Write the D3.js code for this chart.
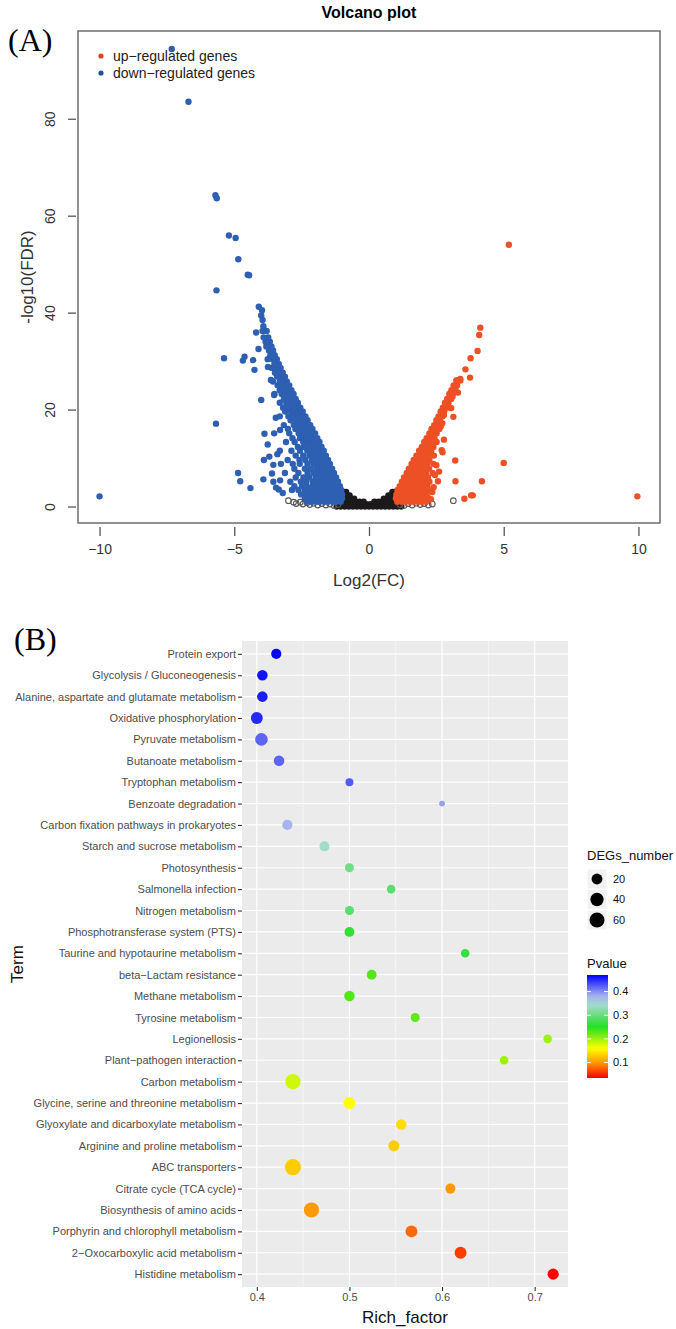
<!DOCTYPE html>
<html><head><meta charset="utf-8">
<script src="https://cdn.jsdelivr.net/npm/d3@7"></script>
<style>body{margin:0;background:#fff}text{font-family:"Liberation Sans",Arial,sans-serif}</style>
</head><body>
<svg id="c" width="676" height="1329"></svg>
<script>
// ---------------- Panel A data (volcano) ----------------
const volcanoXTicks = [-10, -5, 0, 5, 10];
const volcanoYTicks = [0, 20, 40, 60, 80];
const volcanoLegend = ["up\u2212regulated genes", "down\u2212regulated genes"];
// down-regulated: rows of [ -log10(FDR), [log2FC values] ]
const downRows = [
 [1.0,[-1.05,-1.22,-1.33,-1.52,-1.64,-1.83,-1.94,-2.12,-2.27]],
 [1.7,[-1.0,-1.17,-1.3,-1.47,-1.58,-1.77,-1.9,-2.07,-2.2,-2.38]],
 [2.5,[-1.0,-1.1,-1.28,-1.4,-1.59,-1.7,-1.89,-2.0,-2.19,-2.3,-2.52]],
 [3.4,[-1.03,-1.16,-1.29,-1.46,-1.6,-1.74,-1.92,-2.04,-2.22,-2.38,-2.62,-2.86]],
 [4.2,[-1.08,-1.21,-1.37,-1.49,-1.66,-1.79,-1.96,-2.09,-2.31,-2.48,-2.77]],
 [5.1,[-1.15,-1.31,-1.43,-1.61,-1.74,-1.91,-2.08,-2.32,-2.53,-2.92]],
 [6.0,[-1.22,-1.35,-1.51,-1.64,-1.81,-1.98,-2.22,-2.43,-2.72]],
 [6.9,[-1.3,-1.45,-1.57,-1.73,-1.87,-2.06,-2.28,-2.62,-3.12]],
 [7.8,[-1.37,-1.53,-1.65,-1.81,-1.94,-2.16,-2.38,-2.77]],
 [8.8,[-1.45,-1.59,-1.75,-1.89,-2.06,-2.28,-2.57,-2.83,-3.27]],
 [9.6,[-1.52,-1.67,-1.79,-1.96,-2.11,-2.36,-2.58,-3.02]],
 [10.5,[-1.6,-1.73,-1.89,-2.02,-2.21,-2.44,-2.72]],
 [11.5,[-1.68,-1.83,-1.95,-2.11,-2.29,-2.56,-2.88,-3.31]],
 [12.3,[-1.76,-1.89,-2.05,-2.19,-2.41,-2.64]],
 [13.3,[-1.84,-1.99,-2.11,-2.29,-2.44,-2.76,-3.08]],
 [14.1,[-1.92,-2.05,-2.21,-2.35,-2.56,-2.84]],
 [15.1,[-2.0,-2.15,-2.27,-2.45,-2.61,-2.96,-3.52]],
 [16.0,[-2.1,-2.23,-2.39,-2.53,-2.73,-3.01]],
 [16.8,[-2.18,-2.33,-2.45,-2.63,-2.79,-3.16]],
 [17.8,[-2.28,-2.41,-2.57,-2.71,-2.91]],
 [18.6,[-2.36,-2.51,-2.63,-2.81,-2.99,-3.31]],
 [19.6,[-2.46,-2.59,-2.75,-2.89,-3.11]],
 [20.4,[-2.55,-2.69,-2.81,-2.99,-3.19]],
 [21.4,[-2.64,-2.77,-2.93,-3.07,-3.31]],
 [22.2,[-2.72,-2.87,-2.99,-3.16]],
 [23.2,[-2.8,-2.93,-3.09,-3.24,-3.51]],
 [24.0,[-2.88,-3.03,-3.15,-3.31]],
 [25.0,[-2.96,-3.09,-3.25,-3.39]],
 [25.8,[-3.05,-3.19,-3.31,-3.56]],
 [26.8,[-3.12,-3.25,-3.41]],
 [27.6,[-3.2,-3.35,-3.49]],
 [28.6,[-3.28,-3.41,-3.61]],
 [29.4,[-3.35,-3.51]],
 [30.4,[-3.42,-3.57,-3.76]],
 [31.2,[-3.5,-3.66]],
 [32.2,[-3.56,-3.71]],
 [33.0,[-3.62,-3.81]],
 [34.0,[-3.68,-3.84]],
 [34.9,[-3.74,-3.91]],
 [36.2,[-3.8,-3.95]],
 [37.2,[-3.92]],
 [38.5,[-3.95]],
 [39.4,[-4.0]],
 [40.5,[-3.97]],
 [41.2,[-4.09]]
];
const downScatter = [
 [-10,2.1],[-7.32,94.4],[-6.7,83.5],[-5.7,64.2],[-5.65,63.6],[-5.2,55.9],[-4.95,55.4],[-4.85,51],
 [-4.5,47.8],[-4.45,47.7],[-5.66,44.6],[-4.19,35.9],[-5.38,30.6],[-4.62,30.9],[-4.68,30.1],[-4.25,28.2],
 [-5.68,17.1],[-3.88,15],[-3.76,12.8],[-4.86,6.9],[-4.78,5.2],[-4.4,3.8],[-3.92,5.6],[-3.6,6.8],
 [-3.55,5.1],[-3.3,5.4],[-3.35,3.5],[-3.45,3.9],[-3.2,2.8],[-3.9,9.6],[-3.7,10.3],[-3.4,10.8],
 [-3.55,8.6],[-4.0,22.0],[-3.52,23],[-3.64,26.1],[-3.75,28.8],[-3.46,18.3],[-3.3,15.8],[-4.3,30.2],[-4.1,32.5]
];
// up-regulated
const upRows = [
 [1.0,[1.05,1.22,1.34,1.52,1.64,1.82,1.95,2.12]],
 [1.7,[1.0,1.14,1.31,1.44,1.61,1.74,1.91,2.04,2.21]],
 [2.5,[1.02,1.17,1.29,1.45,1.57,1.73,1.85,2.01,2.14]],
 [3.4,[1.06,1.19,1.35,1.47,1.63,1.75,1.91,2.04,2.21]],
 [4.2,[1.14,1.29,1.41,1.57,1.69,1.85,1.99,2.16]],
 [5.1,[1.22,1.35,1.51,1.63,1.79,1.91,2.09,2.24]],
 [6.0,[1.3,1.45,1.57,1.73,1.85,2.03,2.19]],
 [6.9,[1.4,1.53,1.69,1.81,1.97,2.11,2.36]],
 [7.8,[1.48,1.63,1.75,1.91,2.04,2.23]],
 [8.8,[1.58,1.71,1.87,1.99,2.16,2.39]],
 [9.6,[1.66,1.81,1.93,2.09,2.24]],
 [10.5,[1.76,1.89,2.05,2.19,2.41]],
 [11.5,[1.86,2.01,2.13,2.31]],
 [12.3,[1.96,2.09,2.25,2.39]],
 [13.3,[2.05,2.19,2.31,2.51]],
 [14.1,[2.14,2.27,2.43]],
 [15.1,[2.24,2.39,2.51]],
 [16.0,[2.32,2.45,2.61]],
 [16.8,[2.42,2.56]],
 [17.8,[2.5,2.63]],
 [18.6,[2.58,2.73]],
 [19.6,[2.66,2.79]],
 [20.4,[2.74,2.89]],
 [21.4,[2.82,2.95]],
 [22.2,[2.9,3.05]],
 [23.2,[2.98,3.11]],
 [24.0,[3.06,3.21]],
 [25.0,[3.14,3.27]],
 [26.0,[3.24,3.39]]
];
const upScatter = [
 [5.19,54],[4.13,36.9],[4.09,35.4],[4.03,32.1],[3.77,30.6],[3.58,28.3],[3.39,26.3],[3.31,26.1],
 [3.75,26.6],[3.2,24.5],[3.3,23.5],[3.1,22.7],[3.05,20.3],[3.13,18.5],[2.78,18.9],[2.72,17.2],
 [2.66,16.5],[2.78,13.8],[2.7,11.6],[2.73,11.2],[3.2,9.5],[5.0,9.0],[3.21,5.2],[4.19,5.2],
 [2.56,5.2],[3.54,1.6],[3.79,2.3],[3.85,2.3],[9.96,2.1],[2.5,8.5],[2.6,7.2],[2.45,6.5],
 [2.35,3.0],[2.4,4.0],[2.3,1.5]
];
// not significant (filled black)
const nsRows = [
 [0.0,[-1.2,-1.05,-0.9,-0.75,-0.6,-0.45,-0.3,-0.15,0,0.15,0.3,0.45,0.6,0.75,0.9,1.05,1.2]],
 [0.5,[-1.0,-0.85,-0.7,-0.55,-0.4,-0.25,-0.1,0.05,0.2,0.35,0.5,0.65,0.8,0.95]],
 [1.0,[-0.95,-0.8,-0.65,-0.5,-0.35,-0.2,0.2,0.35,0.5,0.65,0.8,0.95]],
 [1.6,[-0.95,-0.82,-0.68,-0.55,0.55,0.68,0.82,0.95]],
 [2.3,[-0.95,-0.83,-0.72,0.72,0.83,0.95]],
 [3.0,[-0.93,-0.85,0.87,0.95]]
];
// open circles
const openPoints = [
 [-2.99,1.2],[-2.8,0.9],[-2.7,0.6],[-2.55,0.9],[-2.45,0.5],[-2.3,0.8],[-2.2,0.4],[-2.05,0.7],
 [-1.9,0.3],[-1.75,0.6],[-1.6,0.3],[-1.45,0.5],[-1.3,0.2],[-1.15,0.4],[1.15,0.4],[1.3,0.2],
 [1.45,0.6],[1.6,0.3],[1.75,0.7],[1.9,0.4],[2.05,0.6],[2.2,0.3],[2.35,0.5],[3.13,1.2]
];

// ---------------- Panel B data (KEGG enrichment) ----------------
const terms = ["Protein export","Glycolysis / Gluconeogenesis","Alanine, aspartate and glutamate metabolism",
 "Oxidative phosphorylation","Pyruvate metabolism","Butanoate metabolism","Tryptophan metabolism",
 "Benzoate degradation","Carbon fixation pathways in prokaryotes","Starch and sucrose metabolism",
 "Photosynthesis","Salmonella infection","Nitrogen metabolism","Phosphotransferase system (PTS)",
 "Taurine and hypotaurine metabolism","beta\u2212Lactam resistance","Methane metabolism","Tyrosine metabolism",
 "Legionellosis","Plant\u2212pathogen interaction","Carbon metabolism","Glycine, serine and threonine metabolism",
 "Glyoxylate and dicarboxylate metabolism","Arginine and proline metabolism","ABC transporters",
 "Citrate cycle (TCA cycle)","Biosynthesis of amino acids","Porphyrin and chlorophyll metabolism",
 "2\u2212Oxocarboxylic acid metabolism","Histidine metabolism"];
const richFactor = [0.421,0.406,0.406,0.400,0.405,0.424,0.5,0.6,0.433,0.473,0.5,0.545,0.5,0.5,0.625,
 0.524,0.5,0.571,0.714,0.667,0.439,0.5,0.556,0.548,0.439,0.609,0.459,0.567,0.62,0.72];
const degsNumber = [16,18,18,28,34,18,6,3,16,15,10,8,10,14,8,14,18,10,8,8,62,28,18,22,75,15,62,28,28,22];
const pValue = [0.47,0.46,0.455,0.45,0.42,0.42,0.425,0.39,0.38,0.34,0.305,0.29,0.29,0.26,0.265,
 0.23,0.23,0.225,0.2,0.2,0.18,0.16,0.14,0.13,0.13,0.1,0.1,0.08,0.06,0.035];
const richTicks = [0.4, 0.5, 0.6, 0.7];
const richMinor = [0.45, 0.55, 0.65];
const sizeLegend = [20, 40, 60];
const pvalueTicks = [0.1, 0.2, 0.3, 0.4];
const pvalueColourStops = [0.035, 0.1, 0.16, 0.25, 0.34, 0.38, 0.47];
const pvalueColours = ["#ff0000", "#ff9900", "#ffff00", "#22e022", "#a0dcc8", "#a8b4ee", "#0000ff"];

// ---------------- Drawing ----------------
const svg = d3.select("#c");
const flat = rows => rows.flatMap(([y, xs]) => xs.map(x => [x, y]));

// ===== Panel A =====
const A = {l:78, r:660, t:31, b:523};
const xA = d3.scaleLinear().domain([-10.8, 10.8]).range([A.l, A.r]);
const yA = d3.scaleLinear().domain([-3.4, 98.1]).range([A.b, A.t]);

svg.append("text").attr("x", 8).attr("y", 51).attr("font-size", 32)
  .style("font-family", "'Liberation Serif','Times New Roman',serif").text("(A)");
svg.append("text").attr("x", 369).attr("y", 18).attr("text-anchor","middle")
  .attr("font-size", 16).attr("font-weight","bold").text("Volcano plot");

const gA = svg.append("g");
gA.selectAll("circle.ns").data(flat(nsRows)).join("circle")
  .attr("cx", d => xA(d[0])).attr("cy", d => yA(d[1])).attr("r", 3.2).attr("fill", "#1c1a1a");
gA.selectAll("circle.op").data(openPoints).join("circle")
  .attr("cx", d => xA(d[0])).attr("cy", d => yA(d[1])).attr("r", 2.8)
  .attr("fill", "none").attr("stroke", "#555").attr("stroke-width", 1.1);
gA.append("g").selectAll("circle").data(flat(downRows).concat(downScatter)).join("circle")
  .attr("cx", d => xA(d[0])).attr("cy", d => yA(d[1])).attr("r", 3.2).attr("fill", "#2d5fb2");
gA.append("g").selectAll("circle").data(flat(upRows).concat(upScatter)).join("circle")
  .attr("cx", d => xA(d[0])).attr("cy", d => yA(d[1])).attr("r", 3.2).attr("fill", "#ee5025");

svg.append("rect").attr("x", A.l).attr("y", A.t).attr("width", A.r - A.l).attr("height", A.b - A.t)
  .attr("fill", "none").attr("stroke", "#6e6e6e").attr("stroke-width", 1.5);

// legend
const legCols = ["#e8401c", "#1f4fa8"];
volcanoLegend.forEach((t, i) => {
  svg.append("circle").attr("cx", 101).attr("cy", 56 + i*17).attr("r", 2.6).attr("fill", legCols[i]);
  svg.append("text").attr("x", 113).attr("y", 56 + i*17).attr("dy", "0.35em").attr("font-size", 14)
    .attr("fill", "#222").text(t);
});

// axes
const axXA = svg.append("g").attr("transform", `translate(0,527)`)
  .call(d3.axisBottom(xA).tickValues(volcanoXTicks).tickSize(9).tickPadding(8));
axXA.select(".domain").remove();
axXA.selectAll("line").attr("stroke", "#555").attr("stroke-width", 1.3);
axXA.selectAll("text").attr("font-size", 14).attr("fill", "#333").style("font-family","'Liberation Sans',Arial");

const axYA = svg.append("g").attr("transform", `translate(76,0)`)
  .call(d3.axisLeft(yA).tickValues(volcanoYTicks).tickSize(8));
axYA.select(".domain").remove();
axYA.selectAll("line").attr("stroke", "#555").attr("stroke-width", 1.3);
axYA.selectAll("text").attr("x", 0).attr("dy", "0.35em").attr("text-anchor", "middle")
  .attr("transform", "translate(-26,0) rotate(-90)").attr("font-size", 14).attr("fill", "#333")
  .style("font-family","'Liberation Sans',Arial");

svg.append("text").attr("x", 369).attr("y", 580).attr("dy", "0.35em").attr("text-anchor", "middle")
  .attr("font-size", 17).attr("fill", "#333").text("Log2(FC)");
svg.append("text").attr("transform", `translate(27,277) rotate(-90)`).attr("dy", "0.35em")
  .attr("text-anchor", "middle").attr("font-size", 17).attr("fill", "#333").text("-log10(FDR)");

// ===== Panel B =====
const B = {l:242, r:568, t:641, b:1287};
svg.append("text").attr("x", 14).attr("y", 650).attr("font-size", 32)
  .style("font-family", "'Liberation Serif','Times New Roman',serif").text("(B)");

const rMin = d3.min(richFactor), rMax = d3.max(richFactor), ex = (rMax - rMin) * 0.05;
const xB = d3.scaleLinear().domain([rMin - ex, rMax + ex]).range([B.l, B.r]);
const yB = d3.scalePoint().domain(terms).range([B.t, B.b]).padding(0.6);
const dMin = d3.min(degsNumber), dMax = d3.max(degsNumber);
const sizeB = d => 2.9 + (8.1 - 2.9) * Math.sqrt((d - dMin) / (dMax - dMin));
const pMin = d3.min(pValue), pMax = d3.max(pValue);
const colB = d3.scaleLinear().domain(pvalueColourStops).range(pvalueColours).interpolate(d3.interpolateRgb);

svg.append("rect").attr("x", B.l).attr("y", B.t).attr("width", B.r - B.l).attr("height", B.b - B.t).attr("fill", "#ebebeb");
svg.append("g").selectAll("line").data(richMinor).join("line")
  .attr("x1", d => xB(d)).attr("x2", d => xB(d)).attr("y1", B.t).attr("y2", B.b)
  .attr("stroke", "#fff").attr("stroke-width", 0.6);
svg.append("g").selectAll("line").data(richTicks).join("line")
  .attr("x1", d => xB(d)).attr("x2", d => xB(d)).attr("y1", B.t).attr("y2", B.b)
  .attr("stroke", "#fff").attr("stroke-width", 1.2);
svg.append("g").selectAll("line").data(terms).join("line")
  .attr("x1", B.l).attr("x2", B.r).attr("y1", d => yB(d)).attr("y2", d => yB(d))
  .attr("stroke", "#fff").attr("stroke-width", 1.2);

svg.append("g").selectAll("circle").data(terms).join("circle")
  .attr("cx", (d, i) => xB(richFactor[i])).attr("cy", d => yB(d))
  .attr("r", (d, i) => sizeB(degsNumber[i])).attr("fill", (d, i) => colB(pValue[i]));

const axYB = svg.append("g").attr("transform", `translate(${B.l},0)`).call(d3.axisLeft(yB).tickSize(4).tickPadding(2));
axYB.select(".domain").remove();
axYB.selectAll("line").attr("stroke", "#333").attr("stroke-width", 1.1);
axYB.selectAll("text").attr("font-size", 11).attr("fill", "#4d4d4d").style("font-family","'Liberation Sans',Arial");

const axXB = svg.append("g").attr("transform", `translate(0,${B.b})`)
  .call(d3.axisBottom(xB).tickValues(richTicks).tickFormat(d3.format(".1f")).tickSize(4).tickPadding(2));
axXB.select(".domain").remove();
axXB.selectAll("line").attr("stroke", "#333").attr("stroke-width", 1.1);
axXB.selectAll("text").attr("font-size", 11).attr("fill", "#4d4d4d").style("font-family","'Liberation Sans',Arial");

svg.append("text").attr("x", (B.l + B.r) / 2).attr("y", 1317).attr("dy", "0.35em").attr("text-anchor", "middle")
  .attr("font-size", 17).attr("fill", "#111").text("Rich_factor");
svg.append("text").attr("transform", `translate(17,${(B.t + B.b) / 2}) rotate(-90)`).attr("dy", "0.35em")
  .attr("text-anchor", "middle").attr("font-size", 17).attr("fill", "#111").text("Term");

// size legend
svg.append("text").attr("x", 587).attr("y", 855).attr("dy", "0.35em").attr("font-size", 13).attr("fill", "#111").text("DEGs_number");
const yLeg = d3.scalePoint().domain(sizeLegend).range([879, 920]);
const gS = svg.append("g");
gS.selectAll("rect").data(sizeLegend).join("rect")
  .attr("x", 587).attr("y", d => yLeg(d) - 10).attr("width", 20).attr("height", 20)
  .attr("fill", "#f2f2f2").attr("stroke", "#fff");
gS.selectAll("circle").data(sizeLegend).join("circle")
  .attr("cx", 597).attr("cy", d => yLeg(d)).attr("r", d => sizeB(d)).attr("fill", "#000");
gS.selectAll("text").data(sizeLegend).join("text")
  .attr("x", 613).attr("y", d => yLeg(d)).attr("dy", "0.35em").attr("font-size", 11).attr("fill", "#111").text(d => d);

// colour bar
svg.append("text").attr("x", 587).attr("y", 963).attr("dy", "0.35em").attr("font-size", 13).attr("fill", "#111").text("Pvalue");
const barY = d3.scaleLinear().domain([pMin, pMax]).range([1078, 975]);
const grad = svg.append("defs").append("linearGradient").attr("id", "pg")
  .attr("x1", 0).attr("y1", 1).attr("x2", 0).attr("y2", 0);
grad.selectAll("stop").data(d3.range(0, 1.0001, 0.025)).join("stop")
  .attr("offset", d => d).attr("stop-color", d => colB(pMin + d * (pMax - pMin)));
svg.append("rect").attr("x", 587).attr("y", 975).attr("width", 21).attr("height", 103).attr("fill", "url(#pg)");
const gT = svg.append("g");
gT.selectAll("line.l").data(pvalueTicks).join("line")
  .attr("x1", 587).attr("x2", 591).attr("y1", d => barY(d)).attr("y2", d => barY(d)).attr("stroke", "#fff").attr("stroke-width", 1);
gT.selectAll("line.r").data(pvalueTicks).join("line").attr("class","r")
  .attr("x1", 604).attr("x2", 608).attr("y1", d => barY(d)).attr("y2", d => barY(d)).attr("stroke", "#fff").attr("stroke-width", 1);
gT.selectAll("text").data(pvalueTicks).join("text")
  .attr("x", 613).attr("y", d => barY(d)).attr("dy", "0.35em").attr("font-size", 11).attr("fill", "#111").text(d => d.toFixed(1));
</script></body></html>
